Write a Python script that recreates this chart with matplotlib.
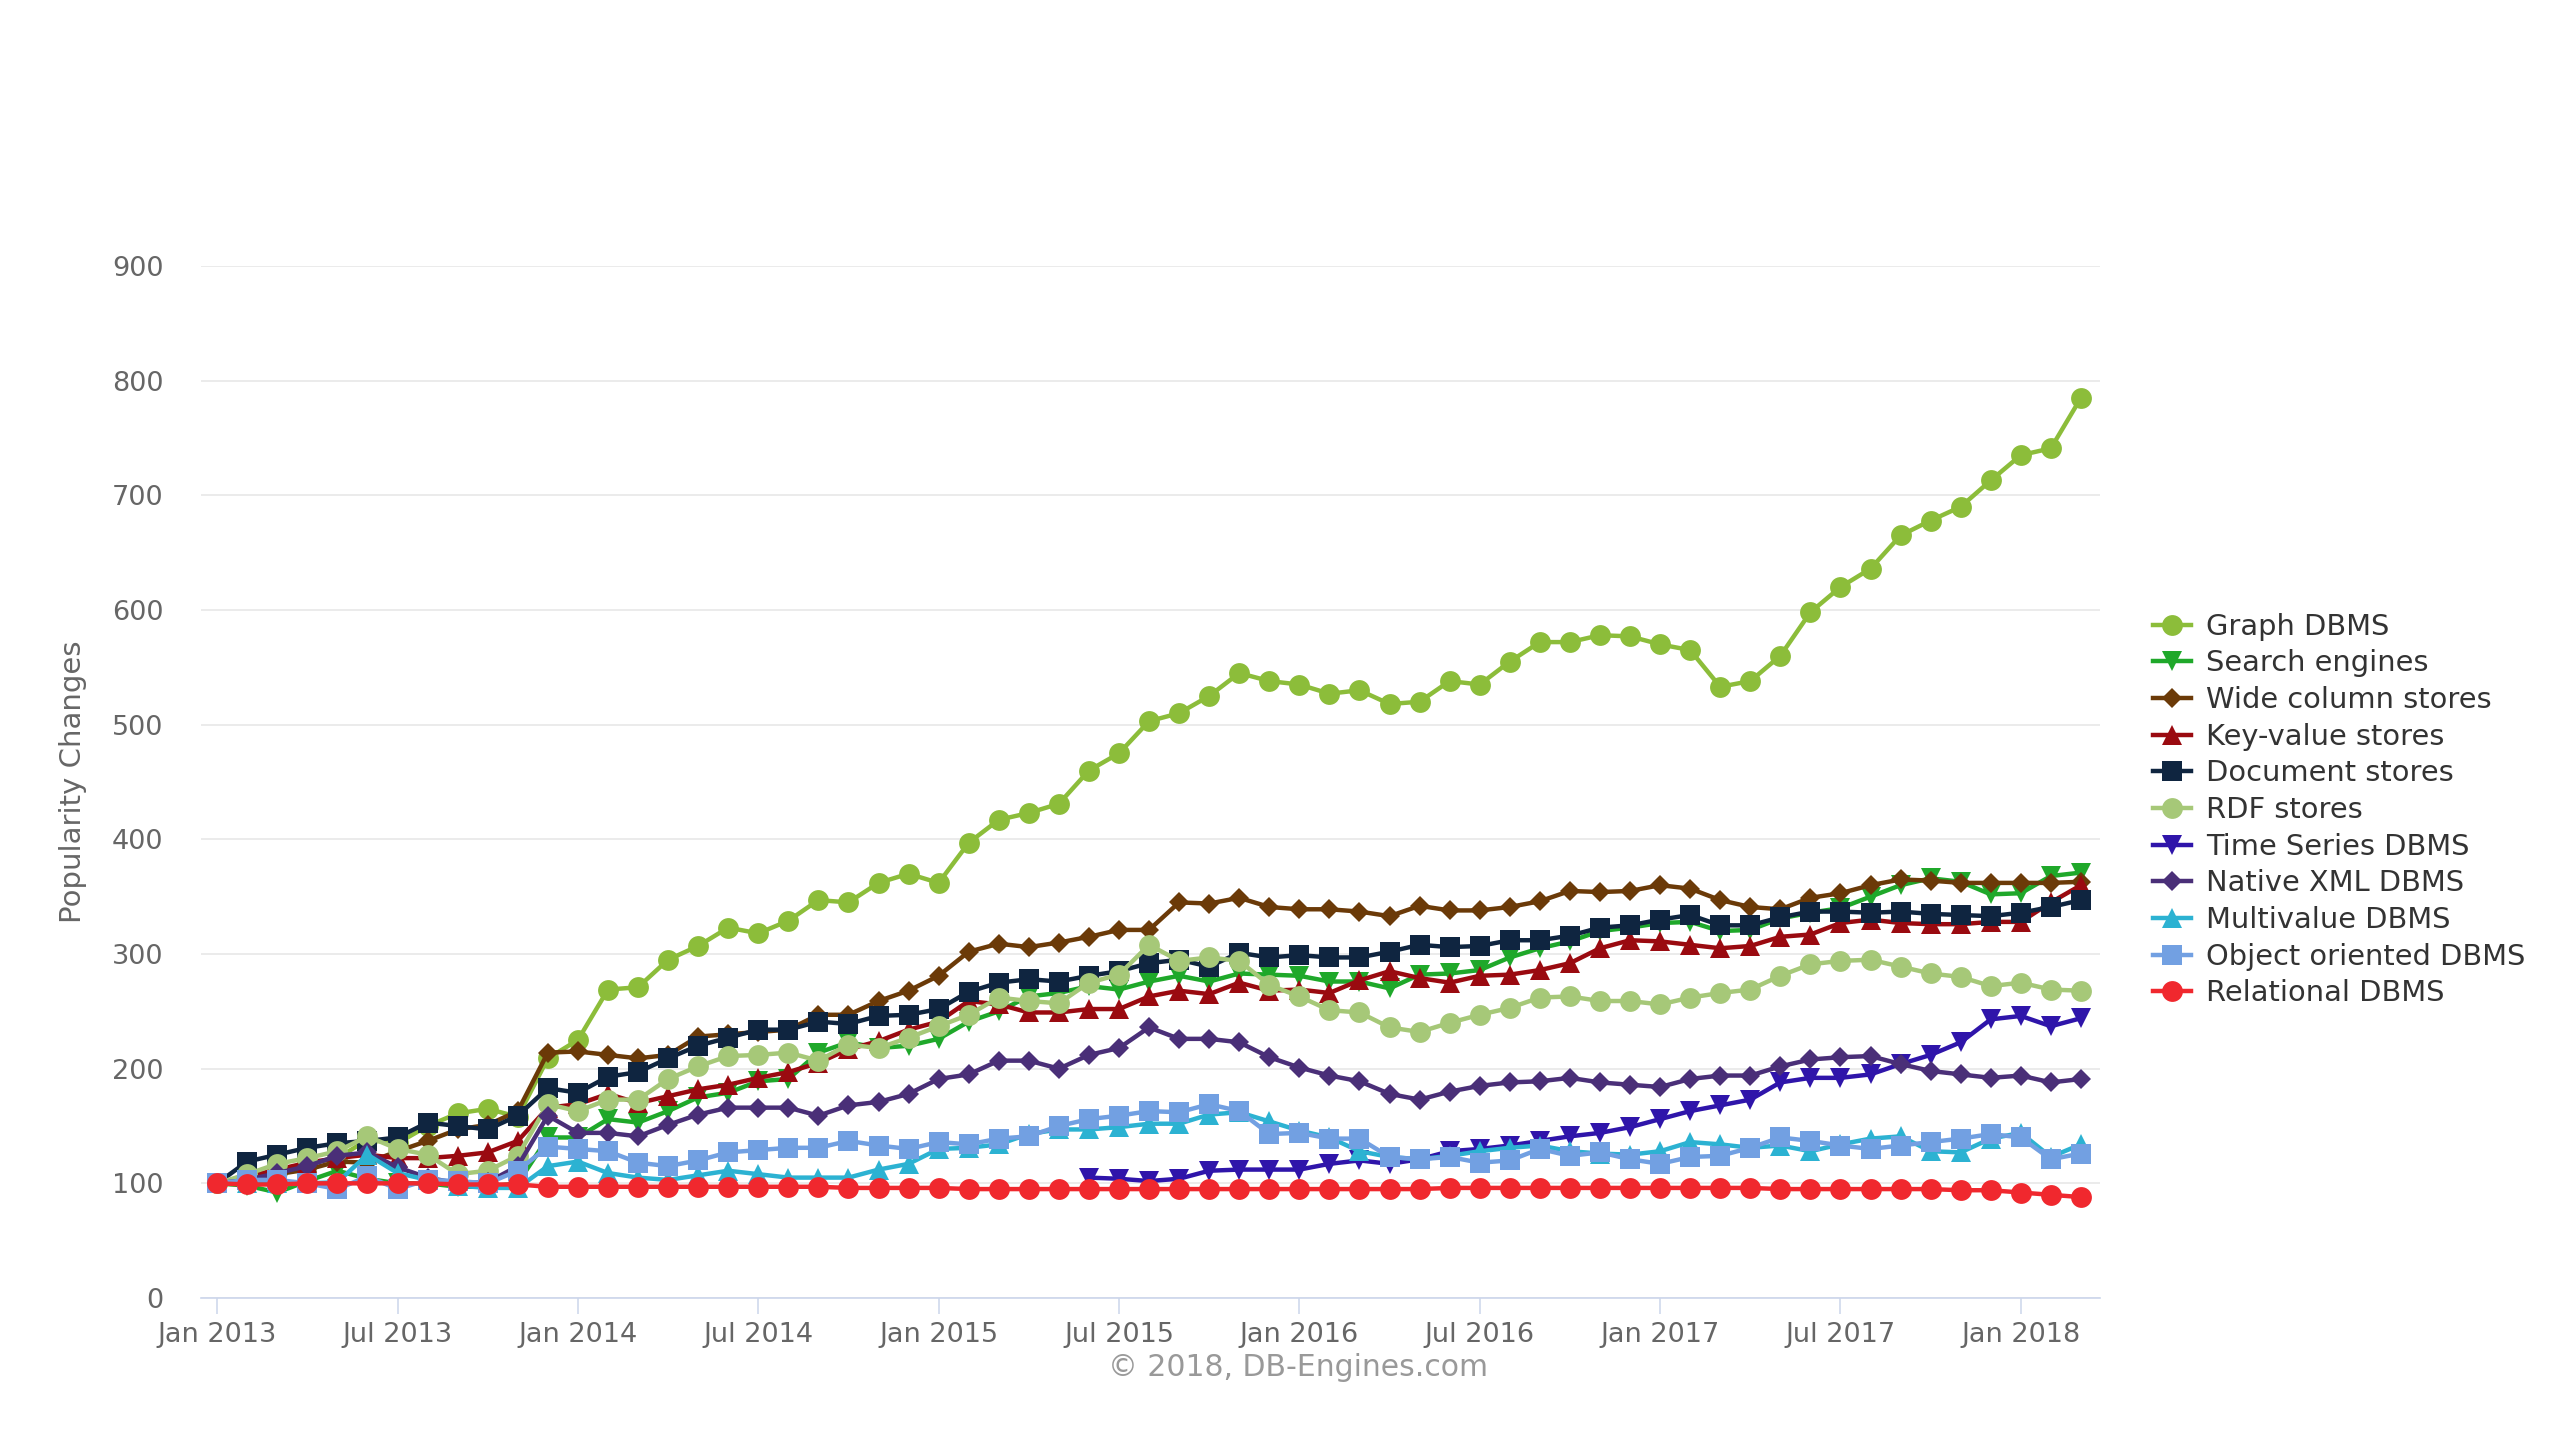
import matplotlib
matplotlib.use("Agg")
import matplotlib.pyplot as plt
import numpy as np

# monthly points, Jan 2013 .. Mar 2018 (63 months)
months = list(range(63))

tick_months = [0, 6, 12, 18, 24, 30, 36, 42, 48, 54, 60]
tick_labels = ['Jan 2013', 'Jul 2013', 'Jan 2014', 'Jul 2014', 'Jan 2015', 'Jul 2015',
               'Jan 2016', 'Jul 2016', 'Jan 2017', 'Jul 2017', 'Jan 2018']

graph_dbms = [100, 105, 110, 117, 122, 138, 135, 150, 161, 165,
              158, 209, 225, 269, 271, 295, 307, 323, 318, 329,
              347, 345, 362, 370, 362, 397, 417, 423, 431, 460,
              475, 503, 510, 525, 545, 538, 535, 527, 530, 518,
              520, 538, 535, 555, 572, 572, 578, 577, 570, 565,
              533, 538, 560, 598, 620, 636, 665, 678, 690, 713,
              735, 741, 785]

search_engines = [100, 98, 92, 102, 111, 104, 100, 100, 97, 97,
                  100, 140, 140, 156, 153, 163, 175, 179, 189, 191,
                  214, 223, 218, 220, 226, 241, 250, 263, 266, 272,
                  269, 276, 281, 276, 283, 282, 281, 276, 276, 270,
                  282, 283, 286, 297, 305, 311, 320, 323, 327, 328,
                  320, 321, 331, 336, 340, 350, 360, 366, 363, 352,
                  353, 368, 371]

wide_column = [100, 104, 108, 112, 119, 118, 128, 137, 147, 151,
               163, 214, 215, 212, 209, 212, 228, 230, 232, 234,
               247, 247, 259, 268, 281, 302, 309, 306, 310, 315,
               321, 321, 345, 344, 349, 341, 339, 339, 337, 333,
               342, 338, 338, 341, 346, 355, 354, 355, 360, 357,
               347, 341, 339, 349, 353, 360, 365, 364, 362, 362,
               362, 362, 363]

key_value = [100, 106, 112, 118, 122, 125, 122, 122, 124, 127,
             137, 166, 169, 178, 170, 176, 182, 186, 192, 197,
             205, 217, 224, 234, 241, 259, 256, 249, 249, 252,
             252, 263, 268, 265, 275, 268, 269, 266, 277, 285,
             279, 275, 281, 282, 286, 292, 305, 312, 311, 308,
             305, 307, 315, 317, 327, 330, 327, 326, 326, 328,
             328, 345, 360]

document = [100, 119, 125, 131, 135, 137, 140, 153, 150, 147,
            159, 183, 179, 193, 197, 209, 220, 227, 234, 234,
            241, 239, 246, 247, 252, 267, 275, 278, 276, 281,
            285, 292, 295, 289, 301, 297, 299, 297, 297, 302,
            308, 306, 307, 312, 312, 316, 323, 325, 330, 334,
            325, 325, 332, 337, 337, 336, 337, 335, 334, 333,
            336, 341, 347]

rdf = [100, 108, 117, 122, 128, 141, 130, 125, 108, 111,
       124, 169, 163, 173, 173, 191, 202, 211, 212, 214,
       207, 221, 218, 227, 237, 247, 262, 259, 257, 275,
       282, 308, 294, 297, 294, 273, 263, 251, 249, 236,
       232, 240, 247, 253, 262, 263, 259, 259, 256, 262,
       266, 269, 281, 291, 294, 295, 289, 283, 280, 272,
       275, 269, 268]

# time series data only starts in Jun 2015
time_series = [None] * 29 + [105, 104, 102, 104, 111, 112, 112, 112, 117, 120,
                             117, 121, 128, 130, 133, 137, 141, 144, 149, 156,
                             163, 168, 173, 188, 192, 192, 195, 204, 212, 223,
                             243, 246, 237, 244]

native_xml = [100, 103, 109, 115, 124, 127, 114, 105, 100, 101,
              115, 159, 144, 144, 141, 151, 160, 166, 166, 166,
              159, 168, 171, 178, 191, 195, 207, 207, 200, 212,
              218, 236, 226, 226, 223, 210, 201, 194, 189, 178,
              173, 180, 185, 188, 189, 192, 188, 186, 184, 191,
              194, 194, 202, 208, 210, 211, 204, 198, 195, 192,
              194, 188, 191]

multivalue = [100, 100, 100, 100, 101, 125, 109, 103, 98, 96,
              96, 115, 119, 109, 105, 103, 107, 111, 108, 105,
              105, 105, 112, 117, 130, 131, 134, 143, 147, 147,
              149, 152, 152, 160, 162, 154, 146, 140, 128, 123,
              121, 124, 128, 131, 133, 128, 126, 125, 128, 136,
              134, 131, 133, 128, 134, 139, 141, 128, 127, 139,
              144, 123, 134]

object_oriented = [100, 103, 103, 100, 95, 106, 95, 103, 102, 100,
                   111, 132, 130, 128, 118, 115, 120, 127, 129, 131,
                   131, 137, 133, 130, 136, 134, 139, 141, 150, 156,
                   159, 163, 162, 169, 163, 143, 144, 139, 139, 123,
                   121, 123, 118, 120, 130, 124, 127, 121, 117, 123,
                   124, 131, 140, 137, 133, 130, 133, 136, 139, 143,
                   140, 121, 126]

relational = [100, 99, 99, 100, 100, 100, 100, 100, 99, 99,
              99, 97, 97, 97, 97, 97, 97, 97, 97, 97,
              97, 96, 96, 96, 96, 95, 95, 95, 95, 95,
              95, 95, 95, 95, 95, 95, 95, 95, 95, 95,
              95, 96, 96, 96, 96, 96, 96, 96, 96, 96,
              96, 96, 95, 95, 95, 95, 95, 95, 94, 94,
              92, 90, 88]

# name, values, color, marker, markersize
series = [
    ('Graph DBMS', graph_dbms, '#8cbd3a', 'o', 15),
    ('Search engines', search_engines, '#1fa82a', 'v', 14),
    ('Wide column stores', wide_column, '#6b3a08', 'D', 10.5),
    ('Key-value stores', key_value, '#9a0a10', '^', 14),
    ('Document stores', document, '#0f2540', 's', 14),
    ('RDF stores', rdf, '#a6c878', 'o', 15),
    ('Time Series DBMS', time_series, '#2f15aa', 'v', 14),
    ('Native XML DBMS', native_xml, '#4a2f78', 'D', 10.5),
    ('Multivalue DBMS', multivalue, '#2cb2d2', '^', 14),
    ('Object oriented DBMS', object_oriented, '#72a0e2', 's', 14),
    ('Relational DBMS', relational, '#f0282e', 'o', 15),
]

plt.rcParams['font.family'] = ['DejaVu Sans']

fig = plt.figure(figsize=(25.6, 14.4), dpi=100)
ax = fig.add_axes([0.0785, 0.0986, 0.742, 0.7167])

for name, values, color, marker, ms in series:
    y = np.array([np.nan if v is None else v for v in values], dtype=float)
    ax.plot(months, y, color=color, lw=3.2, marker=marker, markersize=ms,
            markeredgewidth=0, label=name)

ax.set_xlim(-0.54, 62.65)
ax.set_ylim(0, 900)
ax.set_yticks(range(0, 901, 100))
ax.set_xticks(tick_months)
ax.set_xticklabels(tick_labels)

ax.grid(axis='y', color='#e6e6e6', lw=1.1)
ax.set_axisbelow(True)
for side in ['top', 'right', 'left']:
    ax.spines[side].set_visible(False)
ax.spines['bottom'].set_color('#ccd6eb')
ax.spines['bottom'].set_linewidth(1.2)

ax.tick_params(axis='y', length=0, pad=27, labelsize=19.5, labelcolor='#666666')
ax.tick_params(axis='x', length=11.5, width=1.1, color='#ccd6eb', pad=6,
               labelsize=19.5, labelcolor='#666666')

fig.text(0.0285, 0.457, 'Popularity Changes', rotation=90, ha='center', va='center',
         fontsize=21, color='#666666')

fig.text(0.507, 0.05, '\u00a9 2018, DB-Engines.com', ha='center', va='center',
         fontsize=21.5, color='#999999')

fig.legend(loc='center left', bbox_to_anchor=(0.841, 0.4375), frameon=False,
           fontsize=20.8, labelcolor='#333333', handlelength=1.3, handletextpad=0.55,
           labelspacing=0.3, borderpad=0, borderaxespad=0)

fig.savefig('out.png', dpi=100)
